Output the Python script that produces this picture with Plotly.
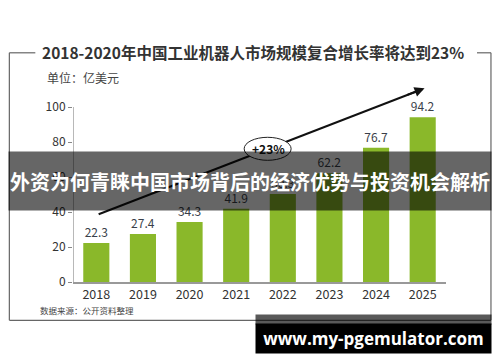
import plotly.graph_objects as go

# ---- data ----
years = ["2018", "2019", "2020", "2021", "2022", "2023", "2024", "2025"]
market_size = [22.3, 27.4, 34.3, 41.9, 50.3, 62.2, 76.7, 94.2]
y_ticks = [0, 20, 40, 60, 80, 100]
cagr_label = "+23%"
title_text = "2018-2020年中国工业机器人市场规模复合增长率将达到23%"
unit_text = "单位：亿美元"
source_text = "数据来源：公开资料整理"
banner_text = "外资为何青睐中国市场背后的经济优势与投资机会解析"
watermark_text = "www.my-pgemulator.com"

# ---- layout geometry (pixels) ----
W, H = 500, 362
L, R = 72.7, 446.0
Y0, YTOP = 281.7, 85.7
y_max = 112

def px(x):
    return (x - L) / (R - L)

def py(y):
    return (Y0 - y) / (Y0 - YTOP)

CJK = "Noto Sans CJK SC"
BAR = "#8ab82a"
TXT = "#333333"

fig = go.Figure()

fig.add_trace(go.Bar(
    x=list(range(len(years))), y=market_size,
    marker=dict(color=BAR, line=dict(width=0)),
    text=[f"{v:.1f}" for v in market_size], textposition="outside",
    textfont=dict(family=CJK, size=12, color="#3a3f4a"),
    cliponaxis=False, width=0.56, hoverinfo="skip",
))

# trend line (drawn as a trace so the ellipse can sit on top)
x_start, y_start = 0.05, 38.7
x_end, y_end = 7.04, 110.7
fig.add_trace(go.Scatter(
    x=[x_start, x_end - 0.15], y=[y_start, y_end - 0.15 * (y_end - y_start) / (x_end - x_start)],
    mode="lines", line=dict(color="#111111", width=2), hoverinfo="skip",
))

shapes = []
# y axis line (0..100)
shapes.append(dict(type="line", xref="x", yref="y", x0=-0.5, x1=-0.5, y0=0, y1=100,
                   line=dict(color="#888888", width=1.2), layer="above"))
# ellipse
shapes.append(dict(type="circle", xref="paper", yref="paper",
                   x0=px(244), x1=px(291), y0=py(137), y1=py(160),
                   fillcolor="white", line=dict(color="#222222", width=1), layer="above"))
# frame
fc = "#666666"
for (x0, y0, x1, y1) in [(9, 52.5, 9, 320), (9, 320, 491, 320), (491, 52.5, 491, 320),
                         (9, 52.5, 35, 52.5), (477, 52.5, 491, 52.5)]:
    shapes.append(dict(type="line", xref="paper", yref="paper",
                       x0=px(x0), x1=px(x1), y0=py(y0), y1=py(y1),
                       line=dict(color=fc, width=1.2), layer="above"))

annotations = []
annotations.append(dict(xref="paper", yref="paper", x=px(268), y=py(148.5), text=f"<b>{cagr_label}</b>",
                        showarrow=False, font=dict(family=CJK, size=12, color="#111111"),
                        xanchor="center", yanchor="middle"))
# arrow head
annotations.append(dict(xref="x", yref="y", axref="x", ayref="y", x=x_end, y=y_end,
                        ax=x_end - 0.4, ay=y_end - 0.4 * (y_end - y_start) / (x_end - x_start),
                        text="", showarrow=True, arrowhead=2, arrowsize=1, arrowwidth=2,
                        arrowcolor="#111111"))
# title
annotations.append(dict(xref="paper", yref="paper", x=px(253), y=py(51.5), text=f"<b>{title_text}</b>",
                        showarrow=False, font=dict(family=CJK, size=15.5, color=TXT),
                        xanchor="center", yanchor="middle"))
annotations.append(dict(xref="paper", yref="paper", x=px(45), y=py(77), text=unit_text,
                        showarrow=False, font=dict(family=CJK, size=12, color="#444444"),
                        xanchor="left", yanchor="middle"))
annotations.append(dict(xref="paper", yref="paper", x=px(38), y=py(310), text=source_text,
                        showarrow=False, font=dict(family=CJK, size=8.5, color="#444444"),
                        xanchor="left", yanchor="middle"))
# banner overlay
annotations.append(dict(xref="paper", yref="paper", x=px(250), y=py(181), text=f"<b>{banner_text}</b>",
                        showarrow=False, font=dict(family=CJK, size=20, color="white"),
                        xanchor="center", yanchor="middle", width=482, height=58,
                        bgcolor="rgba(0,0,0,0.6)", borderpad=0))
# watermark
annotations.append(dict(xref="paper", yref="paper", x=px(373.5), y=py(319.5), text="",
                        showarrow=False, xanchor="center", yanchor="middle", width=235, height=9,
                        bgcolor="rgba(0,0,0,0.65)", borderpad=0, font=dict(size=1)))
annotations.append(dict(xref="paper", yref="paper", x=px(373.5), y=py(338.5), text=f"<b>{watermark_text}</b>",
                        showarrow=False, xanchor="center", yanchor="middle", width=235, height=29,
                        bgcolor="black", borderpad=0,
                        font=dict(family="Open Sans", size=17, color="white")))

fig.update_layout(
    width=W, height=H, autosize=False,
    margin=dict(l=L, r=W - R, t=YTOP, b=H - Y0, pad=0),
    paper_bgcolor="white", plot_bgcolor="white",
    showlegend=False, bargap=0.44,
    shapes=shapes, annotations=annotations,
    xaxis=dict(range=[-0.5, 7.5], tickmode="array", tickvals=list(range(len(years))), ticktext=years,
               showline=True, linecolor="#999999", linewidth=1.5, ticks="", showgrid=False, zeroline=False,
               tickfont=dict(family=CJK, size=12.5, color=TXT), fixedrange=True),
    yaxis=dict(range=[0, y_max], tickmode="array", tickvals=y_ticks, showline=False, ticks="outside",
               ticklen=4, tickcolor="#888888", showgrid=False, zeroline=False,
               tickfont=dict(family=CJK, size=12, color=TXT), fixedrange=True),
)

fig.write_html("out.html", config={"displayModeBar": False},
               post_script="document.body.style.margin='0';document.body.style.overflow='hidden';")
